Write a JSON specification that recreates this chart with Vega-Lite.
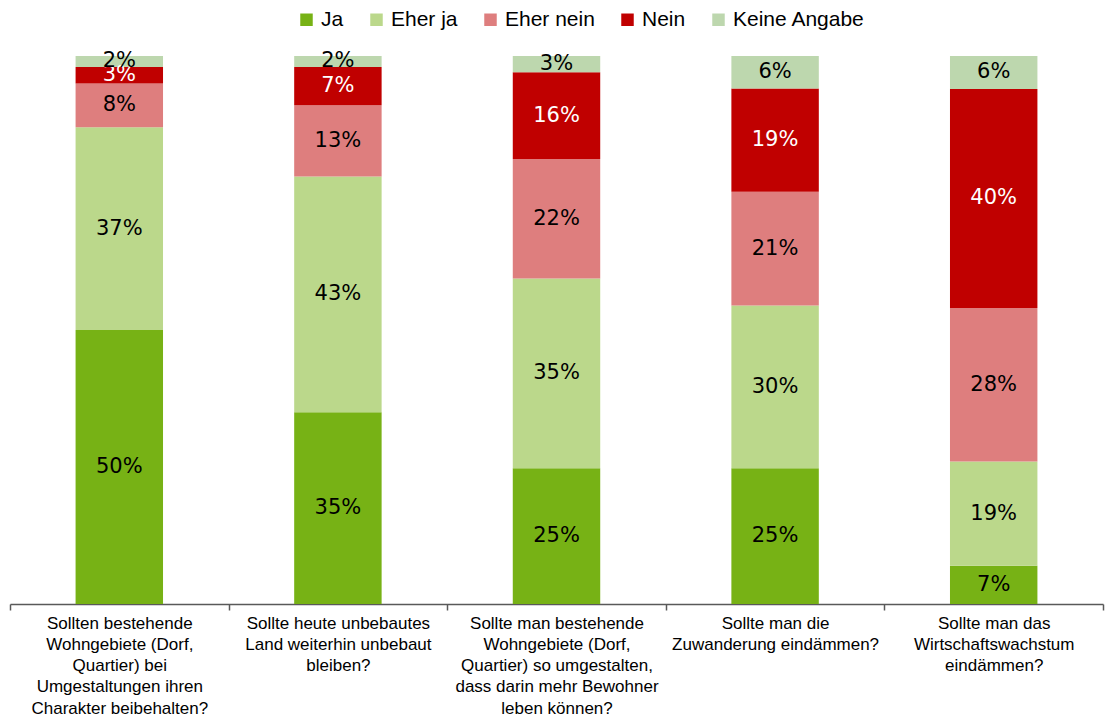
{
  "$schema": "https://vega.github.io/schema/vega-lite/v6.json",
  "width": 1093,
  "height": 548,
  "autosize": {"type": "none"},
  "padding": {"left": 10, "top": 56, "right": 6, "bottom": 113},
  "background": "white",
  "config": {"view": {"stroke": null}},
  "data": {
    "values": [
      {"q": "Sollten bestehende|Wohngebiete (Dorf,|Quartier) bei|Umgestaltungen ihren|Charakter beibehalten?", "answer": "Ja", "ord": 1, "value": 50},
      {"q": "Sollten bestehende|Wohngebiete (Dorf,|Quartier) bei|Umgestaltungen ihren|Charakter beibehalten?", "answer": "Eher ja", "ord": 2, "value": 37},
      {"q": "Sollten bestehende|Wohngebiete (Dorf,|Quartier) bei|Umgestaltungen ihren|Charakter beibehalten?", "answer": "Eher nein", "ord": 3, "value": 8},
      {"q": "Sollten bestehende|Wohngebiete (Dorf,|Quartier) bei|Umgestaltungen ihren|Charakter beibehalten?", "answer": "Nein", "ord": 4, "value": 3},
      {"q": "Sollten bestehende|Wohngebiete (Dorf,|Quartier) bei|Umgestaltungen ihren|Charakter beibehalten?", "answer": "Keine Angabe", "ord": 5, "value": 2},
      {"q": "Sollte heute unbebautes|Land weiterhin unbebaut|bleiben?", "answer": "Ja", "ord": 1, "value": 35},
      {"q": "Sollte heute unbebautes|Land weiterhin unbebaut|bleiben?", "answer": "Eher ja", "ord": 2, "value": 43},
      {"q": "Sollte heute unbebautes|Land weiterhin unbebaut|bleiben?", "answer": "Eher nein", "ord": 3, "value": 13},
      {"q": "Sollte heute unbebautes|Land weiterhin unbebaut|bleiben?", "answer": "Nein", "ord": 4, "value": 7},
      {"q": "Sollte heute unbebautes|Land weiterhin unbebaut|bleiben?", "answer": "Keine Angabe", "ord": 5, "value": 2},
      {"q": "Sollte man bestehende|Wohngebiete (Dorf,|Quartier) so umgestalten,|dass darin mehr Bewohner|leben können?", "answer": "Ja", "ord": 1, "value": 25},
      {"q": "Sollte man bestehende|Wohngebiete (Dorf,|Quartier) so umgestalten,|dass darin mehr Bewohner|leben können?", "answer": "Eher ja", "ord": 2, "value": 35},
      {"q": "Sollte man bestehende|Wohngebiete (Dorf,|Quartier) so umgestalten,|dass darin mehr Bewohner|leben können?", "answer": "Eher nein", "ord": 3, "value": 22},
      {"q": "Sollte man bestehende|Wohngebiete (Dorf,|Quartier) so umgestalten,|dass darin mehr Bewohner|leben können?", "answer": "Nein", "ord": 4, "value": 16},
      {"q": "Sollte man bestehende|Wohngebiete (Dorf,|Quartier) so umgestalten,|dass darin mehr Bewohner|leben können?", "answer": "Keine Angabe", "ord": 5, "value": 3},
      {"q": "Sollte man die|Zuwanderung eindämmen?", "answer": "Ja", "ord": 1, "value": 25},
      {"q": "Sollte man die|Zuwanderung eindämmen?", "answer": "Eher ja", "ord": 2, "value": 30},
      {"q": "Sollte man die|Zuwanderung eindämmen?", "answer": "Eher nein", "ord": 3, "value": 21},
      {"q": "Sollte man die|Zuwanderung eindämmen?", "answer": "Nein", "ord": 4, "value": 19},
      {"q": "Sollte man die|Zuwanderung eindämmen?", "answer": "Keine Angabe", "ord": 5, "value": 6},
      {"q": "Sollte man das|Wirtschaftswachstum|eindämmen?", "answer": "Ja", "ord": 1, "value": 7},
      {"q": "Sollte man das|Wirtschaftswachstum|eindämmen?", "answer": "Eher ja", "ord": 2, "value": 19},
      {"q": "Sollte man das|Wirtschaftswachstum|eindämmen?", "answer": "Eher nein", "ord": 3, "value": 28},
      {"q": "Sollte man das|Wirtschaftswachstum|eindämmen?", "answer": "Nein", "ord": 4, "value": 40},
      {"q": "Sollte man das|Wirtschaftswachstum|eindämmen?", "answer": "Keine Angabe", "ord": 5, "value": 6}
    ]
  },
  "transform": [
    {"stack": "value", "groupby": ["q"], "sort": [{"field": "ord", "order": "ascending"}], "offset": "normalize", "as": ["y0", "y1"]},
    {"calculate": "(datum.y0 + datum.y1) / 2", "as": "mid"},
    {"calculate": "datum.value + '%'", "as": "txt"}
  ],
  "encoding": {
    "x": {
      "field": "q",
      "type": "nominal",
      "sort": null,
      "scale": {"paddingInner": 0, "paddingOuter": 0},
      "axis": {
        "title": null,
        "labelAngle": 0,
        "labelExpr": "split(datum.label, '|')",
        "labelFont": "Liberation Sans",
        "labelFontSize": 17,
        "labelLineHeight": 21.3,
        "labelColor": "#000000",
        "labelLimit": 0,
        "labelPadding": 5,
        "labelBaseline": "top",
        "ticks": true,
        "tickBand": "extent",
        "tickSize": 6,
        "tickWidth": 1.5,
        "tickColor": "#595959",
        "domainColor": "#595959",
        "domainWidth": 1.5,
        "grid": false
      }
    }
  },
  "layer": [
    {
      "mark": {"type": "bar", "width": {"band": 0.4}},
      "encoding": {
        "y": {"field": "y0", "type": "quantitative", "scale": {"domain": [0, 1]}, "axis": null},
        "y2": {"field": "y1"},
        "color": {
          "field": "answer",
          "type": "nominal",
          "scale": {
            "domain": ["Ja", "Eher ja", "Eher nein", "Nein", "Keine Angabe"],
            "range": ["#77B215", "#BBD88B", "#DE7E7E", "#C00000", "#BDD7AE"]
          },
          "legend": {
            "title": null,
            "orient": "none",
            "legendX": 286,
            "legendY": -47,
            "direction": "horizontal",
            "symbolType": "square",
            "symbolSize": 156,
            "symbolStrokeWidth": 0,
            "labelFont": "Liberation Sans",
            "labelFontSize": 21,
            "labelColor": "#000000",
            "labelOffset": 4,
            "columnPadding": 22,
            "padding": 0
          }
        }
      }
    },
    {
      "mark": {"type": "text", "font": "DejaVu Sans", "fontSize": 21, "baseline": "middle", "align": "center"},
      "encoding": {
        "y": {"field": "mid", "type": "quantitative", "scale": {"domain": [0, 1]}},
        "text": {"field": "txt"},
        "color": {"condition": {"test": "datum.answer == 'Nein'", "value": "#FFFFFF"}, "value": "#000000"}
      }
    }
  ]
}
